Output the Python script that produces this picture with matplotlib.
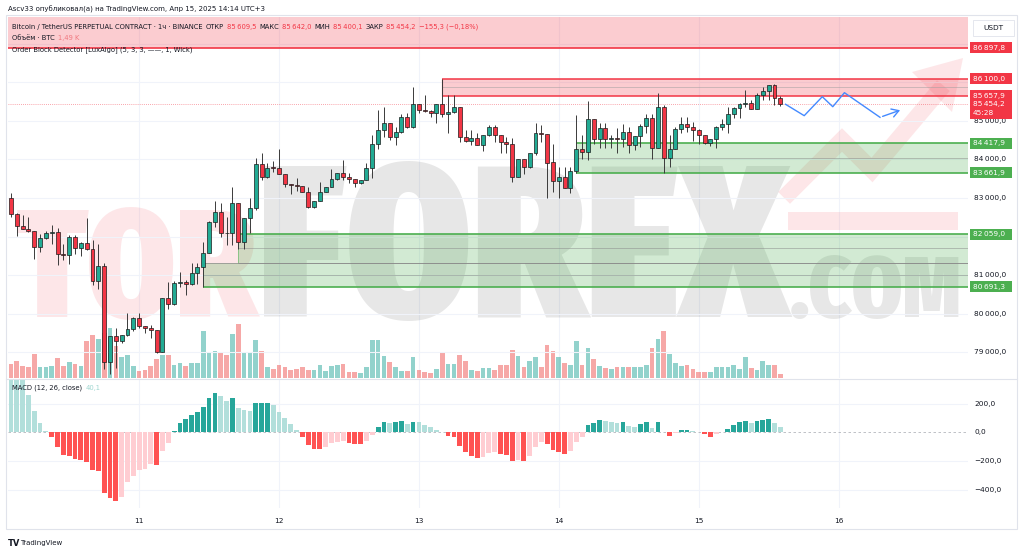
import os
import numpy as np
import pandas as pd
import matplotlib
matplotlib.use("Agg")
import matplotlib.pyplot as plt
import matplotlib.transforms as mtransforms
from matplotlib.patches import Rectangle, Polygon
from matplotlib import font_manager

W, H, DPI = 1024, 554, 100

# ---------------- data (BTCUSDT.P, 1h, Binance) ----------------
start_time = "2025-04-10 02:00"

opens = [83009, 82576, 82282, 82195, 82135, 81719, 81962, 82100, 82109, 81546,
         81512, 81979, 81702, 81823, 81667, 80836, 81226, 78733, 79408, 79287,
         79434, 79598, 79893, 79667, 79633, 79564, 79001, 80394, 80239, 80784,
         80810, 80758, 81044, 81200, 81581, 82386, 82637, 82095, 82083, 82862,
         81849, 82472, 82732, 83875, 83546, 83797, 83790, 83615, 83355, 83345,
         83304, 83165, 82755, 82923, 83165, 83286, 83494, 83658, 83537, 83494,
         83381, 83468, 83771, 84394, 84758, 84957, 84593, 84706, 85113, 84853,
         85442, 85286, 85269, 85217, 85442, 85182, 85243, 85355, 84576, 84470,
         84550, 84375, 84628, 84853, 84628, 84463, 84394, 83555, 84013, 83797,
         84160, 84697, 84663, 83926, 83450, 83537, 83268, 83710, 84272, 84186,
         85051, 84523, 84809, 84523, 84549, 84523, 84705, 84376, 84610, 84870,
         85069, 84307, 85354, 84030, 84272, 84792, 84921, 84852, 84766, 84636,
         84419, 84532, 84852, 84921, 85181, 85328, 85432, 85476, 85311, 85675,
         85779, 85934, 85609.5]
highs = [83122, 82600, 82559, 82498, 82140, 82065, 82152, 82291, 82213, 81806,
         82031, 82031, 81858, 82481, 81901, 81797, 81312, 79420, 79624, 79450,
         80005, 79900, 80005, 79680, 79702, 79570, 80400, 80810, 80845, 81070,
         80871, 81321, 81304, 81849, 82390, 82923, 82862, 82498, 83295, 82870,
         82490, 82992, 84031, 84160, 83901, 83962, 84273, 83620, 83370, 83511,
         83310, 83277, 82923, 83407, 83286, 83745, 83658, 83987, 83641, 83500,
         83468, 83901, 84637, 85286, 85372, 84960, 84853, 85173, 85199, 85875,
         85450, 85675, 85275, 85450, 86100, 85675, 85675, 85360, 84766, 84766,
         84680, 84628, 84896, 84896, 84635, 84576, 84550, 84013, 84020, 84160,
         84957, 84896, 84670, 84402, 83796, 83796, 83814, 85155, 84636, 85519,
         85060, 84939, 84939, 84636, 84809, 84921, 84852, 84615, 84913, 85181,
         85172, 85718, 85415, 84636, 84852, 85112, 85112, 84965, 84783, 84640,
         84532, 84870, 85051, 85354, 85354, 85458, 85805, 85545, 85718, 85891,
         85934, 85960, 85642.0]
lows = [82516, 82022, 82190, 82126, 81416, 81607, 81944, 81806, 81252, 81382,
        81295, 81546, 81485, 81650, 80732, 80628, 78568, 78430, 78594, 79226,
        79420, 79555, 79633, 79503, 79356, 78975, 78990, 80109, 80230, 80698,
        80473, 80750, 80758, 80691.3, 81563, 82256, 81996, 81788, 81780, 81676,
        81685, 82083, 82689, 83468, 83511, 83684, 83615, 83277, 83104, 83191,
        83148, 82749, 82732, 82915, 83148, 83280, 83468, 83468, 83381, 83277,
        83364, 83460, 83528, 84264, 84576, 84507, 84377, 84700, 84810, 84810,
        85199, 85243, 85113, 84940, 85113, 84680, 85217, 84463, 84463, 84377,
        84368, 84230, 84620, 84463, 84160, 84160, 83425, 83550, 83624, 83790,
        84117, 84463, 82992, 83147, 83008, 83268, 83121, 83661.9, 84004, 83987,
        84402, 84290, 84290, 84290, 84177, 84333, 84177, 84247, 84333, 84696,
        84004, 84300, 83658, 83814, 84265, 84680, 84723, 84489, 84402, 84402,
        84359, 84290, 84766, 84679, 85086, 85086, 85354, 85311, 85305, 85545,
        85545, 85415, 85400.1]
closes = [82576, 82282, 82195, 82135, 81719, 81962, 82100, 82109, 81546, 81512,
          81979, 81702, 81823, 81667, 80836, 81226, 78733, 79408, 79287, 79434,
          79598, 79893, 79667, 79633, 79564, 79001, 80394, 80239, 80784, 80810,
          80758, 81044, 81200, 81581, 82386, 82637, 82083, 82083, 82862, 81849,
          82472, 82732, 83875, 83546, 83788, 83790, 83615, 83355, 83345, 83304,
          83165, 82755, 82923, 83165, 83286, 83494, 83658, 83537, 83494, 83381,
          83468, 83771, 84394, 84758, 84957, 84593, 84706, 85113, 84853, 85442,
          85286, 85269, 85217, 85442, 85182, 85243, 85355, 84576, 84470, 84550,
          84375, 84628, 84853, 84628, 84463, 84394, 83555, 84013, 83797, 84160,
          84697, 84663, 83918, 83450, 83537, 83268, 83710, 84272, 84186, 85051,
          84523, 84809, 84523, 84549, 84523, 84705, 84376, 84610, 84870, 85069,
          84307, 85354, 84030, 84272, 84792, 84921, 84852, 84766, 84636, 84419,
          84532, 84852, 84921, 85181, 85328, 85432, 85476, 85311, 85675, 85779,
          85934, 85609.5, 85454.2]
# volume, thousands of BTC
volume_k = [5.2, 6.3, 4.4, 4.1, 8.9, 4.1, 4.1, 4.4, 7.4, 4.4, 5.9, 5.2, 4.4, 13.7, 15.9,
            14.4, 16.7, 18.5, 11.8, 7.8, 8.5, 4.4, 2.6, 3.0, 4.4, 7.0, 8.5, 8.5, 4.8, 5.6,
            4.4, 5.6, 5.6, 17.4, 9.6, 10.0, 9.6, 8.5, 16.3, 20.0, 9.3, 9.6, 14.1, 10.0, 4.1,
            3.3, 4.8, 4.1, 3.0, 3.3, 4.1, 3.0, 3.0, 4.8, 2.6, 4.4, 4.8, 5.2, 2.2, 2.2,
            1.9, 4.1, 14.1, 14.1, 8.1, 5.9, 4.1, 2.6, 2.6, 7.8, 3.0, 2.2, 1.9, 3.3, 9.3,
            5.2, 5.2, 8.5, 6.3, 3.0, 2.6, 3.7, 3.7, 3.0, 4.8, 4.8, 10.4, 8.1, 4.1, 6.3,
            7.8, 4.1, 12.2, 10.0, 7.8, 5.6, 4.8, 13.7, 4.8, 11.1, 7.0, 4.4, 3.7, 3.3, 4.1,
            4.1, 4.1, 4.1, 4.1, 4.8, 11.1, 14.4, 17.4, 8.9, 5.6, 4.4, 4.8, 3.3, 2.2, 2.2,
            2.2, 4.1, 4.1, 4.1, 4.8, 3.3, 7.8, 3.7, 3.0, 6.3, 4.8, 4.8, 1.49]
# MACD (12, 26, close) histogram
macd_hist = [385, 380, 370, 260, 145, 67, 12, -31, -105, -158,
             -165, -189, -193, -210, -263, -270, -421, -460, -477, -453,
             -344, -305, -263, -255, -224, -228, -130, -72, 11, 62,
             90, 118, 141, 179, 237, 276, 253, 221, 237, 172,
             155, 151, 202, 203, 204, 190, 144, 102, 58, 16,
             -30, -88, -116, -119, -100, -77, -65, -64, -72, -81,
             -82, -58, -19, 39, 74, 67, 75, 78, 58, 74,
             69.5, 51, 35, 16, 2, -23, -35, -95, -140, -163,
             -181, -174, -147, -140, -150, -155, -198, -195, -198, -165,
             -105, -65, -82, -123, -135, -151, -128, -65, -35, 49,
             62, 86, 79, 74, 67, 70, 44, 39, 55, 72,
             30, 70, 2, -26, -5, 14, 15, 9, 2, -12,
             -30, -12, 2, 23, 51, 70, 79, 67, 81, 86,
             90, 67, 40.1]

# order blocks: (origin bar time, bottom, top)
bear_obs = [("2025-04-13 04:00", 85657.9, 86100.0)]
upper_bear_level = 86897.8
bull_obs = [("2025-04-14 03:00", 83661.9, 84417.9),
            ("2025-04-11 17:00", 81320.0, 82059.0),
            ("2025-04-11 11:00", 80691.3, 81320.0)]

# author's projected path
proj_times = ["2025-04-15 14:54", "2025-04-15 18:06", "2025-04-15 21:12", "2025-04-15 23:00",
              "2025-04-16 01:00", "2025-04-16 07:06", "2025-04-16 11:00"]
proj_prices = [85434, 85138, 85631, 85371, 85735, 85096, 85304]

price_ticks = [79000, 80000, 81000, 82000, 83000, 84000, 85000, 86000, 87000]
macd_ticks = [200, 0, -200, -400]
countdown = "45:28"

# ---------------- styling ----------------
UP = "#22ab94"
DN = "#f23645"
TXT = "#131722"
GRID = "#f0f3fa"
RED_OB = "#f23645"
GRN_OB = "#4caf50"


def fmt(v):
    s = f"{abs(v):,.1f}".replace(",", "\u2009").replace(".", ",")
    return ("\u2212" + s) if v < 0 else s


t0 = pd.Timestamp(start_time)
x = np.arange(len(closes))


def tx(t):
    return (pd.Timestamp(t) - t0) / pd.Timedelta(hours=1)


fig = plt.figure(figsize=(W / DPI, H / DPI), dpi=DPI)
fig.patch.set_facecolor("white")


def px_rect(l, t, r, b):
    return [l / W, 1 - b / H, (r - l) / W, (b - t) / H]


main_rect = px_rect(8, 17, 968, 378)
macd_rect = px_rect(8, 380, 968, 508)

ax_vol = fig.add_axes(main_rect)
ax = fig.add_axes(main_rect, sharex=ax_vol)
ax.set_zorder(2)
ax.patch.set_visible(False)
ax_m = fig.add_axes(macd_rect, sharex=ax_vol)

xmin, xmax = -0.5, 164.2
ax_vol.set_xlim(xmin, xmax)
ax.set_ylim(78325, 87701)
ax_vol.set_ylim(0, 133.6)
ax_m.set_ylim(-527, 364)

for a in (ax_vol, ax, ax_m):
    for s in a.spines.values():
        s.set_visible(False)
    a.tick_params(left=False, right=False, labelleft=False, labelright=False,
                  bottom=False, labelbottom=False)

# day grid + ticks
days = pd.date_range("2025-04-11", "2025-04-16", freq="D")
day_ticks = [tx(d) for d in days]
day_labels = [str(d.day) for d in days]
for d in day_ticks:
    ax_vol.axvline(d, color=GRID, lw=0.8, zorder=0)
    ax_m.axvline(d, color=GRID, lw=0.8, zorder=0)
for p in price_ticks:
    ax.axhline(p, color=GRID, lw=0.8, zorder=0)
for m in macd_ticks:
    if m != 0:
        ax_m.axhline(m, color=GRID, lw=0.8, zorder=0)

ax_m.set_xticks(day_ticks)
ax_m.set_xticklabels(day_labels)
ax_m.tick_params(labelbottom=True, labelsize=5.3, labelcolor=TXT, pad=4)

renderer = fig.canvas.get_renderer()

# ---------------- watermark ----------------
def pick_narrow_font():
    best, score = None, -1
    for f in font_manager.fontManager.ttflist:
        base = os.path.basename(f.fname).lower()
        nm = (f.name + " " + str(f.stretch)).lower() + " " + base
        if not ("condensed" in nm or "narrow" in nm):
            continue
        if not ("bold" in base or "black" in base or str(f.weight) in ("700", "800", "900", "bold")):
            continue
        if "italic" in base or "oblique" in base:
            continue
        sc = 1
        if "extracondensed" in base or "extra-condensed" in nm:
            sc += 2
        if "black" in base or "extrabold" in base:
            sc += 1
        if sc > score:
            best, score = f.fname, sc
    if best:
        return font_manager.FontProperties(fname=best)
    return font_manager.FontProperties(family="DejaVu Sans", weight="bold")


wm_fp = pick_narrow_font()


def watermark(s, x0, x1, base, cap, color, alpha):
    size = cap / 0.73 * 72 / DPI
    t = ax_vol.text((x0 + x1) / 2 / W, 1 - base / H, s, transform=fig.transFigure,
                    fontproperties=wm_fp, fontsize=size, color=color, alpha=alpha,
                    ha="center", va="baseline", zorder=1)
    bb = t.get_window_extent(renderer=renderer)
    if bb.width > (x1 - x0):
        t.set_fontsize(size * (x1 - x0) / bb.width)


watermark("TOR", 17, 257, 317, 130, "#f23645", 0.12)
watermark("FOREX", 258, 790, 317, 189, "#000000", 0.095)
watermark(".COM", 790, 962, 317, 74, "#000000", 0.095)


def fpx(px, py):
    return (px / W, 1 - py / H)


ax_vol.add_patch(Rectangle(fpx(788, 230), 170 / W, 18 / H, transform=fig.transFigure,
                           color="#f23645", alpha=0.12, lw=0, zorder=1))
zz = [fpx(790, 192), fpx(842, 140), fpx(872, 170), fpx(938, 92)]
ax_vol.plot([p[0] for p in zz], [p[1] for p in zz], transform=fig.transFigure,
            color="#f23645", alpha=0.12, lw=12, solid_joinstyle="miter", zorder=1)
ax_vol.add_patch(Polygon([fpx(963, 58), fpx(912, 72), fpx(952, 112)], closed=True,
                         transform=fig.transFigure, color="#f23645", alpha=0.12, lw=0,
                         zorder=1))

# ---------------- volume ----------------
up = np.array(closes) >= np.array(opens)
vcol = np.where(up, "#26a69a", "#ef5350")
ax_vol.bar(x, volume_k, width=0.8, color=vcol, alpha=0.5, lw=0, zorder=2)

# ---------------- order blocks ----------------
ax.add_patch(Rectangle((xmin, upper_bear_level), xmax - xmin, 3000, color=RED_OB,
                       alpha=0.25, lw=0, zorder=1))
ax.hlines(upper_bear_level, xmin, xmax, color=RED_OB, lw=1.2, zorder=1.5)

for t, lo, hi in bear_obs:
    s = tx(t)
    ax.add_patch(Rectangle((s, lo), xmax - s, hi - lo, color=RED_OB, alpha=0.25, lw=0, zorder=1))
    ax.hlines([lo, hi], s, xmax, color=RED_OB, lw=1.1, zorder=1.5)
    ax.hlines((lo + hi) / 2, s, xmax, color="#9e9e9e", lw=0.5, alpha=0.7, zorder=1.5)
    ax.vlines(s, lo, hi, color=RED_OB, lw=0.8, zorder=1.5)

for i, (t, lo, hi) in enumerate(bull_obs):
    s = tx(t)
    ax.add_patch(Rectangle((s, lo), xmax - s, hi - lo, color=GRN_OB, alpha=0.25, lw=0, zorder=1))
    ax.hlines((lo + hi) / 2, s, xmax, color="#8a8a8a", lw=0.5, alpha=0.7, zorder=1.5)
    ax.vlines(s, lo, hi, color=GRN_OB, lw=0.6, alpha=0.6, zorder=1.5)
    edge_hi = GRN_OB if i < 2 else "#8a8a8a"
    edge_lo = GRN_OB if i != 1 else "#8a8a8a"
    ax.hlines(hi, s, xmax, color=edge_hi, lw=1.2 if edge_hi == GRN_OB else 0.5, zorder=1.6)
    ax.hlines(lo, s, xmax, color=edge_lo, lw=1.2 if edge_lo == GRN_OB else 0.5, zorder=1.6)

# last price line
ax.axhline(closes[-1], color=DN, ls=(0, (1, 1.5)), lw=0.6, alpha=0.6, zorder=1.5)

# ---------------- candles ----------------
o = np.array(opens); c = np.array(closes)
ax.vlines(x, lows, highs, color="#3a3a3a", lw=0.7, zorder=3)
ax.bar(x, np.abs(c - o), bottom=np.minimum(o, c), width=0.68,
       color=np.where(up, UP, DN), edgecolor="#1b1b1b", lw=0.5, zorder=4)

# projection
px_ = [tx(t) for t in proj_times]
ax.plot(px_[:-1], proj_prices[:-1], color="#448aff", lw=1.0, zorder=5)
ax.annotate("", xy=(px_[-1], proj_prices[-1]), xytext=(px_[-2], proj_prices[-2]),
            arrowprops=dict(arrowstyle="->,head_length=0.5,head_width=0.3",
                            color="#448aff", lw=1.0), zorder=5)

# ---------------- MACD ----------------
mh = np.array(macd_hist, dtype=float)
prev = np.concatenate([[mh[0] + 1], mh[:-1]])
mcol = np.where(mh >= 0, np.where(mh > prev, "#26a69a", "#b2dfdb"),
                np.where(mh < prev, "#ff5252", "#ffcdd2"))
ax_m.bar(x, mh, width=0.82, color=mcol, lw=0, zorder=2)
ax_m.axhline(0, color="#9598a1", ls=(0, (3, 3)), lw=0.6, alpha=0.7, zorder=1)

# ---------------- right price scale ----------------
blend = mtransforms.blended_transform_factory(ax.transAxes, ax.transData)
blend_m = mtransforms.blended_transform_factory(ax_m.transAxes, ax_m.transData)
ax_w = 960.0
lab_x = (974 - 8) / ax_w
ppx = (ax.get_ylim()[1] - ax.get_ylim()[0]) / (378 - 17)

label_levels = [upper_bear_level] + [v for _, lo, hi in bear_obs for v in (hi, lo)] + \
               [bull_obs[0][2], bull_obs[0][1], bull_obs[1][2], bull_obs[2][1]]
for p in price_ticks:
    # ticks fully covered by a coloured label are hidden, as on the platform
    if min(abs(p - lv) for lv in label_levels) < 5 * ppx:
        continue
    ax.text(lab_x, p, fmt(p), transform=blend, fontsize=5.3, color=TXT,
            va="center", ha="left", clip_on=False, zorder=6)
for m in macd_ticks:
    ax_m.text(lab_x, m, fmt(m), transform=blend_m, fontsize=5.3, color=TXT,
              va="center", ha="left", clip_on=False, zorder=6)

box_x0 = (970 - 8) / ax_w
box_w = 42 / ax_w


def price_label(p, col, h=11, top_off=None, extra=None):
    top = p + (h / 2) * ppx if top_off is None else p + top_off * ppx
    ax.add_patch(Rectangle((box_x0, top - h * ppx), box_w, h * ppx, transform=blend,
                           color=col, lw=0, clip_on=False, zorder=7))
    ax.text(box_x0 + 3 / ax_w, p, fmt(p), transform=blend, fontsize=5.3, color="white",
            va="center", ha="left", clip_on=False, zorder=8)
    if extra:
        ax.text(box_x0 + 3 / ax_w, p - 9.5 * ppx, extra, transform=blend, fontsize=5.3,
                color="white", va="center", ha="left", clip_on=False, zorder=8)


price_label(upper_bear_level, RED_OB)
for t, lo, hi in bear_obs:
    price_label(hi, RED_OB)
    price_label(lo, RED_OB)
price_label(closes[-1], DN, h=21, top_off=5.5, extra=countdown)
for lvl in (bull_obs[0][2], bull_obs[0][1], bull_obs[1][2], bull_obs[2][1]):
    price_label(lvl, GRN_OB)

# ---------------- frame & texts ----------------
frame = Rectangle(fpx(6, 529), 1011 / W, 514 / H, transform=fig.transFigure,
                  fill=False, ec="#e0e3eb", lw=0.8)
fig.patches.append(frame)
fig.add_artist(plt.Line2D([6 / W, 1017 / W], [1 - 379 / H] * 2, color="#e0e3eb", lw=0.8))

usdt = Rectangle(fpx(973, 36), 41 / W, 16 / H, transform=fig.transFigure,
                 fc="white", ec="#e0e3eb", lw=0.6, zorder=9)
fig.patches.append(usdt)
fig.text(993.5 / W, 1 - 28 / H, "USDT", fontsize=5.3, color=TXT, ha="center", va="center",
         zorder=10)

fig.text(8 / W, 1 - 9 / H, "Ascv33 опубликовал(а) на TradingView.com, Апр 15, 2025 14:14 UTC+3",
         fontsize=5.0, color=TXT, va="center", ha="left")


def seg_text(xp, yp, parts, size=4.9, gap=3):
    for s, col in parts:
        t = fig.text(xp / W, 1 - yp / H, s, fontsize=size, color=col, va="center", ha="left",
                     zorder=10)
        xp += t.get_window_extent(renderer=renderer).width + gap


RED_T = "#f23645"
chg = closes[-1] - opens[-1]
pct = chg / opens[-1] * 100
pct_s = ("\u2212" if pct < 0 else "") + f"{abs(pct):.2f}".replace(".", ",")
seg_text(12, 27, [("Bitcoin / TetherUS PERPETUAL CONTRACT · 1ч · BINANCE", TXT),
                  ("ОТКР", TXT), (fmt(opens[-1]), RED_T), ("МАКС", TXT), (fmt(highs[-1]), RED_T),
                  ("МИН", TXT), (fmt(lows[-1]), RED_T), ("ЗАКР", TXT), (fmt(closes[-1]), RED_T),
                  (f"{fmt(chg)} ({pct_s}%)", RED_T)])
seg_text(12, 38, [("Объём · BTC", TXT), ("1,49 K", "#f0787f")])
seg_text(12, 50, [("Order Block Detector [LuxAlgo] (5, 3, 3, ——, 1, Wick)", TXT)])
seg_text(12, 388, [("MACD (12, 26, close)", TXT), (fmt(macd_hist[-1]), "#9fd6d0")])

fig.text(8 / W, 1 - 543 / H, "TV", fontsize=6, fontweight="bold", color=TXT, va="center")
fig.text(20 / W, 1 - 543 / H, "TradingView", fontsize=5.0, color=TXT, va="center")

fig.savefig("out.png", dpi=DPI, facecolor="white")
